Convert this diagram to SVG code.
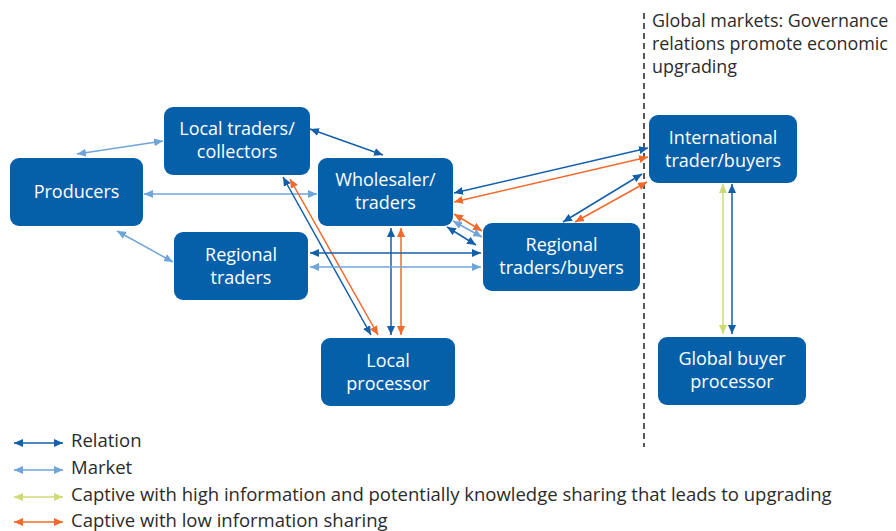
<svg xmlns="http://www.w3.org/2000/svg" width="896" height="531" viewBox="0 0 896 531">
<style>
.node rect{fill:#0660a9;}
.node text{fill:#fff;font-family:"Open Sans","Noto Sans",sans-serif;font-size:18px;text-anchor:middle;}
.c{fill:none;stroke-width:1.5;}
.rel{stroke:#145fa9;marker-start:url(#aRel);marker-end:url(#aRel);}
.mkt{stroke:#6fa5db;marker-start:url(#aMkt);marker-end:url(#aMkt);}
.hi{stroke:#d0da74;marker-start:url(#aHi);marker-end:url(#aHi);}
.lo{stroke:#f26a2b;marker-start:url(#aLo);marker-end:url(#aLo);}
.lbl{fill:#2b2b2b;font-family:"Open Sans","Noto Sans",sans-serif;font-size:17.9px;}
.leg{font-size:18.5px;}
</style>
<defs>
<marker id="aRel" markerUnits="userSpaceOnUse" markerWidth="10" markerHeight="8" refX="9" refY="4" orient="auto-start-reverse"><path d="M0,0 L9,4 L0,8 z" fill="#145fa9"/></marker>
<marker id="aMkt" markerUnits="userSpaceOnUse" markerWidth="10" markerHeight="8" refX="9" refY="4" orient="auto-start-reverse"><path d="M0,0 L9,4 L0,8 z" fill="#6fa5db"/></marker>
<marker id="aHi" markerUnits="userSpaceOnUse" markerWidth="10" markerHeight="8" refX="9" refY="4" orient="auto-start-reverse"><path d="M0,0 L9,4 L0,8 z" fill="#d0da74"/></marker>
<marker id="aLo" markerUnits="userSpaceOnUse" markerWidth="10" markerHeight="8" refX="9" refY="4" orient="auto-start-reverse"><path d="M0,0 L9,4 L0,8 z" fill="#f26a2b"/></marker>
</defs>
<rect width="896" height="531" fill="#fff"/>
<line x1="644" y1="13" x2="644" y2="447" stroke="#111" stroke-width="1.4" stroke-dasharray="6,4"/>
<text class="lbl" x="652" y="27">Global markets: Governance</text>
<text class="lbl" x="652" y="50">relations promote economic</text>
<text class="lbl" x="652" y="73">upgrading</text>
<g id="connectors">
<line class="c mkt" x1="77" y1="154" x2="163" y2="141"/>
<line class="c mkt" x1="144" y1="194" x2="317" y2="194"/>
<line class="c mkt" x1="117" y1="231" x2="173" y2="262"/>
<line class="c rel" x1="310" y1="129" x2="383" y2="155"/>
<line class="c rel" x1="283" y1="177" x2="371" y2="335"/>
<line class="c lo" x1="290" y1="179" x2="378" y2="335"/>
<line class="c rel" x1="391" y1="228" x2="391" y2="335"/>
<line class="c lo" x1="401" y1="228" x2="401" y2="335"/>
<line class="c rel" x1="310" y1="253" x2="481" y2="253"/>
<line class="c mkt" x1="310" y1="267" x2="481" y2="267"/>
<line class="c lo" x1="454" y1="214" x2="482" y2="231"/>
<line class="c mkt" x1="453" y1="221" x2="482" y2="237"/>
<line class="c rel" x1="447" y1="227" x2="476" y2="245"/>
<line class="c rel" x1="454" y1="193" x2="648" y2="148"/>
<line class="c lo" x1="454" y1="202" x2="648" y2="157"/>
<line class="c rel" x1="563" y1="222" x2="642" y2="174"/>
<line class="c lo" x1="575" y1="222" x2="647" y2="182"/>
<line class="c hi" x1="723" y1="184" x2="723" y2="334"/>
<line class="c rel" x1="732" y1="184" x2="732" y2="334"/>
</g>
<g id="producers" class="node"><rect x="10" y="158" width="133" height="68" rx="9"/><text x="76.5" y="198">Producers</text></g>
<g id="local-traders" class="node"><rect x="164" y="107" width="146" height="68" rx="9"/><text x="237" y="135">Local traders/</text><text x="237" y="158">collectors</text></g>
<g id="regional-traders" class="node"><rect x="174" y="232" width="134" height="68" rx="9"/><text x="241" y="261">Regional</text><text x="241" y="284">traders</text></g>
<g id="wholesaler" class="node"><rect x="318" y="158" width="135" height="68" rx="9"/><text x="385.5" y="186">Wholesaler/</text><text x="385.5" y="209">traders</text></g>
<g id="regional-buyers" class="node"><rect x="483" y="223" width="157" height="68" rx="9"/><text x="561.5" y="251">Regional</text><text x="561.5" y="274">traders/buyers</text></g>
<g id="local-processor" class="node"><rect x="321" y="338" width="134" height="68" rx="9"/><text x="388" y="367">Local</text><text x="388" y="390">processor</text></g>
<g id="international" class="node"><rect x="649" y="115" width="148" height="68" rx="9"/><text x="723" y="144">International</text><text x="723" y="167">trader/buyers</text></g>
<g id="global-buyer" class="node"><rect x="658" y="337" width="148" height="68" rx="9"/><text x="732" y="365">Global buyer</text><text x="732" y="388">processor</text></g>
<g id="legend">
<line class="c rel" x1="14" y1="443" x2="63" y2="443"/>
<line class="c mkt" x1="14" y1="470" x2="63" y2="470"/>
<line class="c hi" x1="14" y1="497" x2="63" y2="497"/>
<line class="c lo" x1="14" y1="522" x2="63" y2="522"/>
<text class="lbl leg" x="71" y="447">Relation</text>
<text class="lbl leg" x="71" y="474">Market</text>
<text class="lbl leg" x="71" y="501">Captive with high information and potentially knowledge sharing that leads to upgrading</text>
<text class="lbl leg" x="71" y="527">Captive with low information sharing</text>
</g>
</svg>
